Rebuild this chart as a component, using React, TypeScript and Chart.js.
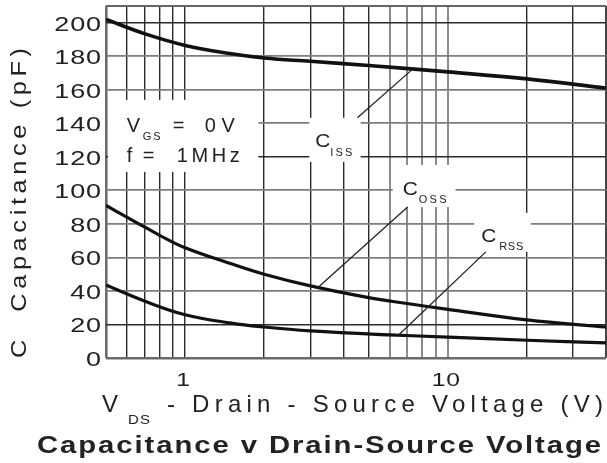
import { useEffect, useRef } from 'react';
import { Chart, registerables } from 'chart.js';

Chart.register(...registerables);

// ---- data ----
const cissVds = [0.5, 0.7, 1, 1.5, 2, 3, 5, 10, 20, 40];
const cissPf = [202, 193.5, 186.5, 181.5, 179, 177, 174.5, 170.7, 166.5, 161];
const cossVds = [0.5, 0.6, 0.7, 0.8, 1, 1.5, 2, 3, 5, 7, 10, 20, 40];
const cossPf = [91, 84, 78.2, 73.2, 65.8, 56.2, 50, 43, 36, 32.5, 29, 22.7, 18.5];
const crssVds = [0.5, 0.7, 1, 1.5, 2, 3, 6, 10, 20, 40];
const crssPf = [43.5, 34, 25.8, 20.8, 18.5, 16.2, 13.8, 12.5, 10.6, 9];

const xGridValues = [0.5, 0.6, 0.7, 0.8, 0.9, 1, 2, 3, 4, 5, 6, 7, 8, 9, 10, 20, 30, 40];
const xTickValues = [1, 10];
const xTickLabels = ['1', '10'];
const yTickValues = [0, 20, 40, 60, 80, 100, 120, 140, 160, 180, 200];
const yTickLabels = ['0', '20', '40', '60', '80', '100', '120', '140', '160', '180', '200'];

const xTitleMain = 'V';
const xTitleSub = 'DS';
const xTitleRest = '- Drain - Source Voltage (V)';
const yTitle = 'C  Capacitance (pF)';
const chartTitle = 'Capacitance v Drain-Source Voltage';

// annotation anchors in data units
const condLine1 = { x: 0.6, y: 135 };
const condLine2 = { x: 0.6, y: 117 };
const cissLabel = { x: 3.13, y: 126 };
const cossLabel = { x: 6.73, y: 97.3 };
const crssLabel = { x: 13.4, y: 69.3 };
const whiteBoxes = [
  { x0: 0.5, x1: 1.9, y0: 111, y1: 154 },
  { x0: 2.97, x1: 4.66, y0: 117, y1: 143.3 },
  { x0: 6.17, x1: 10.7, y0: 90, y1: 115.2 },
  { x0: 12.6, x1: 20.7, y0: 63.3, y1: 86.6 },
];
const leaders = [
  { x0: 4.53, y0: 143.3, x1: 7.29, y1: 171.9 },
  { x0: 7.03, y0: 90.1, x1: 3.22, y1: 42.4 },
  { x0: 13.96, y0: 63.3, x1: 6.5, y1: 13.7 },
];

const FONT = '"Liberation Sans", Arial, Helvetica, sans-serif';
const INK = '#222';

type TOpts = {
  size: number;
  bold?: boolean;
  stretch?: number;
  spacing?: number;
  align?: 'left' | 'center' | 'right';
  fitTo?: number;
};

function drawText(ctx: CanvasRenderingContext2D, text: string, x: number, y: number, o: TOpts) {
  const stretch = o.stretch ?? 1;
  ctx.save();
  ctx.font = `${o.bold ? 'bold ' : ''}${o.size}px ${FONT}`;
  (ctx as any).letterSpacing = '0px';
  const w0 = ctx.measureText(text).width;
  const n = [...text].length;
  let spacing = o.spacing ?? 0;
  if (o.fitTo !== undefined && n > 1) spacing = (o.fitTo / stretch - w0) / (n - 1);
  const w = (w0 + spacing * (n - 1)) * stretch;
  let left = x;
  if (o.align === 'center') left = x - w / 2;
  else if (o.align === 'right') left = x - w;
  ctx.translate(left, y);
  ctx.scale(stretch, 1);
  (ctx as any).letterSpacing = `${spacing}px`;
  ctx.textAlign = 'left';
  ctx.textBaseline = 'alphabetic';
  ctx.fillStyle = INK;
  ctx.fillText(text, 0, 0);
  ctx.restore();
}

const decor = {
  id: 'decor',
  beforeDatasetsDraw(chart: any) {
    const { ctx, chartArea } = chart;
    const xs = chart.scales.x;
    const ys = chart.scales.y;
    ctx.save();
    ctx.fillStyle = '#fff';
    for (const b of whiteBoxes) {
      const px0 = Math.max(xs.getPixelForValue(b.x0), chartArea.left + 2);
      const px1 = xs.getPixelForValue(b.x1);
      const py0 = ys.getPixelForValue(b.y1);
      const py1 = ys.getPixelForValue(b.y0);
      ctx.fillRect(px0, py0, px1 - px0, py1 - py0);
    }
    // top border
    ctx.strokeStyle = '#666';
    ctx.lineWidth = 2.2;
    ctx.beginPath();
    ctx.moveTo(chartArea.left, chartArea.top);
    ctx.lineTo(chartArea.right, chartArea.top);
    ctx.stroke();
    ctx.restore();
  },
  afterDatasetsDraw(chart: any) {
    const { ctx } = chart;
    const xs = chart.scales.x;
    const ys = chart.scales.y;
    ctx.save();
    ctx.strokeStyle = '#222';
    ctx.lineWidth = 1.3;
    for (const l of leaders) {
      ctx.beginPath();
      ctx.moveTo(xs.getPixelForValue(l.x0), ys.getPixelForValue(l.y0));
      ctx.lineTo(xs.getPixelForValue(l.x1), ys.getPixelForValue(l.y1));
      ctx.stroke();
    }
    ctx.restore();

    // annotation texts
    const p = (a: { x: number; y: number }) => [xs.getPixelForValue(a.x), ys.getPixelForValue(a.y)];
    const [c1x, c1y] = p(condLine1);
    drawText(ctx, 'V', c1x, c1y, { size: 20 });
    drawText(ctx, 'GS', c1x + 16, c1y + 8, { size: 11, spacing: 2 });
    drawText(ctx, '=', c1x + 46, c1y, { size: 20 });
    drawText(ctx, '0V', c1x + 78, c1y, { size: 20, fitTo: 30 });
    const [c2x, c2y] = p(condLine2);
    drawText(ctx, 'f', c2x, c2y, { size: 20 });
    drawText(ctx, '=', c2x + 16, c2y, { size: 20 });
    drawText(ctx, '1MHz', c2x + 50, c2y, { size: 20, fitTo: 63 });

    const labels = [
      { a: cissLabel, sub: 'ISS', dx: 15, dy: 9, w: 22 },
      { a: cossLabel, sub: 'OSS', dx: 16, dy: 8, w: 28 },
      { a: crssLabel, sub: 'RSS', dx: 18, dy: 8, w: 24 },
    ];
    for (const l of labels) {
      const [lx, ly] = p(l.a);
      drawText(ctx, 'C', lx, ly, { size: 19, stretch: 1.1 });
      drawText(ctx, l.sub, lx + l.dx, ly + l.dy, { size: 11, fitTo: l.w });
    }
  },
  afterDraw(chart: any) {
    const { ctx } = chart;
    const xs = chart.scales.x;
    const ys = chart.scales.y;
    // y tick labels
    yTickValues.forEach((v, i) => {
      const py = ys.getPixelForValue(v);
      drawText(ctx, yTickLabels[i], 101, py + 8, { size: 20, stretch: 1.35, spacing: 0.6, align: 'right' });
    });
    // x tick labels
    xTickValues.forEach((v, i) => {
      const px = xs.getPixelForValue(v);
      drawText(ctx, xTickLabels[i], px - 2, 386, { size: 19, stretch: 1.3, spacing: 0.5, align: 'center' });
    });
    // x axis title
    drawText(ctx, xTitleMain, 102, 412, { size: 24 });
    drawText(ctx, xTitleSub, 128, 424, { size: 12, stretch: 1.25, spacing: 1 });
    drawText(ctx, xTitleRest, 167, 412, { size: 24, fitTo: 436 });
    // y axis title (rotated)
    ctx.save();
    ctx.translate(26, 358);
    ctx.rotate(-Math.PI / 2);
    drawText(ctx, yTitle, 0, 0, { size: 22, stretch: 1.15, fitTo: 310 });
    ctx.restore();
    // bottom title
    drawText(ctx, chartTitle, 37, 453, { size: 24, bold: true, stretch: 1.22, fitTo: 564 });
  },
};

const toPts = (xs: number[], ys: number[]) => xs.map((x, i) => ({ x, y: ys[i] }));

const xDarkSet = new Set([0.6, 0.7, 0.8, 0.9, 1, 2, 3, 4, 5, 20, 30]);
const yDarkSet = new Set([20, 120, 200]);

export default function App() {
  const ref = useRef<HTMLCanvasElement | null>(null);
  useEffect(() => {
    document.body.style.margin = '0';
    if (!ref.current) return;
    const chart = new Chart(ref.current, {
      type: 'line',
      data: {
        datasets: [
          { label: 'Ciss', data: toPts(cissVds, cissPf), borderColor: '#111', borderWidth: 3.6, pointRadius: 0, tension: 0.4 },
          { label: 'Coss', data: toPts(cossVds, cossPf), borderColor: '#111', borderWidth: 3.2, pointRadius: 0, tension: 0.4 },
          { label: 'Crss', data: toPts(crssVds, crssPf), borderColor: '#111', borderWidth: 3.2, pointRadius: 0, tension: 0.4 },
        ],
      },
      options: {
        animation: false,
        responsive: false,
        devicePixelRatio: 1,
        layout: { padding: { top: 6, right: 1, left: 0, bottom: 0 } },
        plugins: { legend: { display: false }, tooltip: { enabled: false }, title: { display: false } },
        scales: {
          x: {
            type: 'logarithmic',
            min: 0.5,
            max: 40,
            border: { display: false },
            ticks: { display: false },
            afterBuildTicks: (s: any) => {
              s.ticks = xGridValues.map((v) => ({ value: v }));
            },
            afterFit: (s: any) => {
              s.height = 105;
            },
            grid: {
              drawTicks: false,
              color: (c: any) => {
                const v = c.tick?.value;
                if (v === 0.5) return '#6a6a6a';
                if (v === 40) return '#444';
                return xDarkSet.has(v) ? '#2b2b2b' : '#8c8c8c';
              },
              lineWidth: (c: any) => {
                const v = c.tick?.value;
                if (v === 0.5) return 2.6;
                return xDarkSet.has(v) ? 1.4 : 2;
              },
            },
          },
          y: {
            type: 'linear',
            min: 0,
            max: 210,
            border: { display: false },
            ticks: { display: false },
            afterBuildTicks: (s: any) => {
              s.ticks = yTickValues.map((v) => ({ value: v }));
            },
            afterFit: (s: any) => {
              s.width = 106;
            },
            grid: {
              drawTicks: false,
              color: (c: any) => {
                const v = c.tick?.value;
                if (v === 0) return '#6a6a6a';
                return yDarkSet.has(v) ? '#2b2b2b' : '#7e7e7e';
              },
              lineWidth: (c: any) => {
                const v = c.tick?.value;
                if (v === 0) return 2.4;
                return yDarkSet.has(v) ? 1.4 : 1.8;
              },
            },
          },
        },
      },
      plugins: [decor],
    } as any);
    return () => chart.destroy();
  }, []);
  return (
    <div style={{ width: 607, height: 463 }}>
      <canvas ref={ref} width={607} height={463} style={{ display: 'block' }} />
    </div>
  );
}
